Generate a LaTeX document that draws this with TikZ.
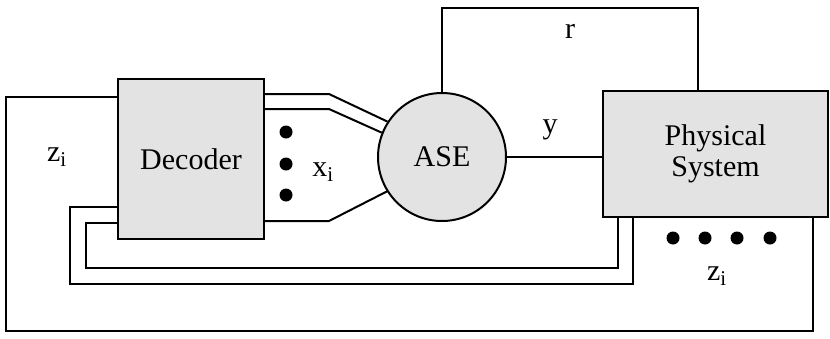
\documentclass[tikz,border=0pt]{standalone}
\usepackage{fontspec}
\setmainfont{Liberation Serif}
\begin{document}
\begin{tikzpicture}[x=1pt, y=-1pt]
        % Style Definitions
        \tikzstyle{block} = [rectangle, draw, fill=gray!22, line width=2pt, inner sep=0pt, align=center, font=\fontsize{30}{31}\selectfont]
        \tikzstyle{estimator} = [circle, draw, fill=gray!22, line width=2pt, minimum size=128pt, inner sep=0pt, font=\fontsize{30}{31}\selectfont]
        \tikzstyle{signal} = [inner sep=0pt, font=\fontsize{30}{31}\selectfont]
        \tikzstyle{dot} = [circle, fill=black, minimum size=13pt, inner sep=0pt]
        \tikzstyle{wire} = [line width=2pt]

        \useasboundingbox (0,0) rectangle (830,338);

        % Nodes
        \node (decoder) [block, minimum width=146pt, minimum height=160pt] at (191,159) {Decoder};
        \node (ase) [estimator] at (442,157) {ASE};
        \node (phys) [block, minimum width=225pt, minimum height=126pt] at (715.5,154) {Physical\\System};

        \node (dotA) [dot] at (286,132) {};
        \node (dotB) [dot] at (286,164) {};
        \node (dotC) [dot] at (286,195) {};
        \node (dotD) [dot] at (673,238) {};
        \node (dotE) [dot] at (705,238) {};
        \node (dotF) [dot] at (737,238) {};
        \node (dotG) [dot] at (770,238) {};

        \node (xlabel) [signal] at (323,172) {x\textsubscript{i}};
        \node (rlabel) [signal] at (570,31) {r};
        \node (ylabel) [signal] at (550,130) {y};
        \node (zleft) [signal] at (57,157) {z\textsubscript{i}};
        \node (zbottom) [signal] at (717,276) {z\textsubscript{i}};

        % Connectors
        \draw[wire] (decoder.east |- 0,94) -- (329,94) -- (ase.147);
        \draw[wire] (decoder.east |- 0,109) -- (329,109) -- (ase.158);
        \draw[wire] (decoder.east |- 0,221) -- (329,221) -- (ase.212);
        \draw[wire] (ase.north) -- (ase.north |- 0,8) -- (698,8) -- (698,0 |- phys.north);
        \draw[wire] (ase.east) -- (phys.west |- ase.east);
        \draw[wire] (618,0 |- phys.south) -- (618,268) -- (86,268) -- (86,223) -- (decoder.west |- 0,223);
        \draw[wire] (633,0 |- phys.south) -- (633,284) -- (70,284) -- (70,207) -- (decoder.west |- 0,207);
        \draw[wire] (813,0 |- phys.south) -- (813,331) -- (6,331) -- (6,97) -- (decoder.west |- 0,97);

\end{tikzpicture}
\end{document}
